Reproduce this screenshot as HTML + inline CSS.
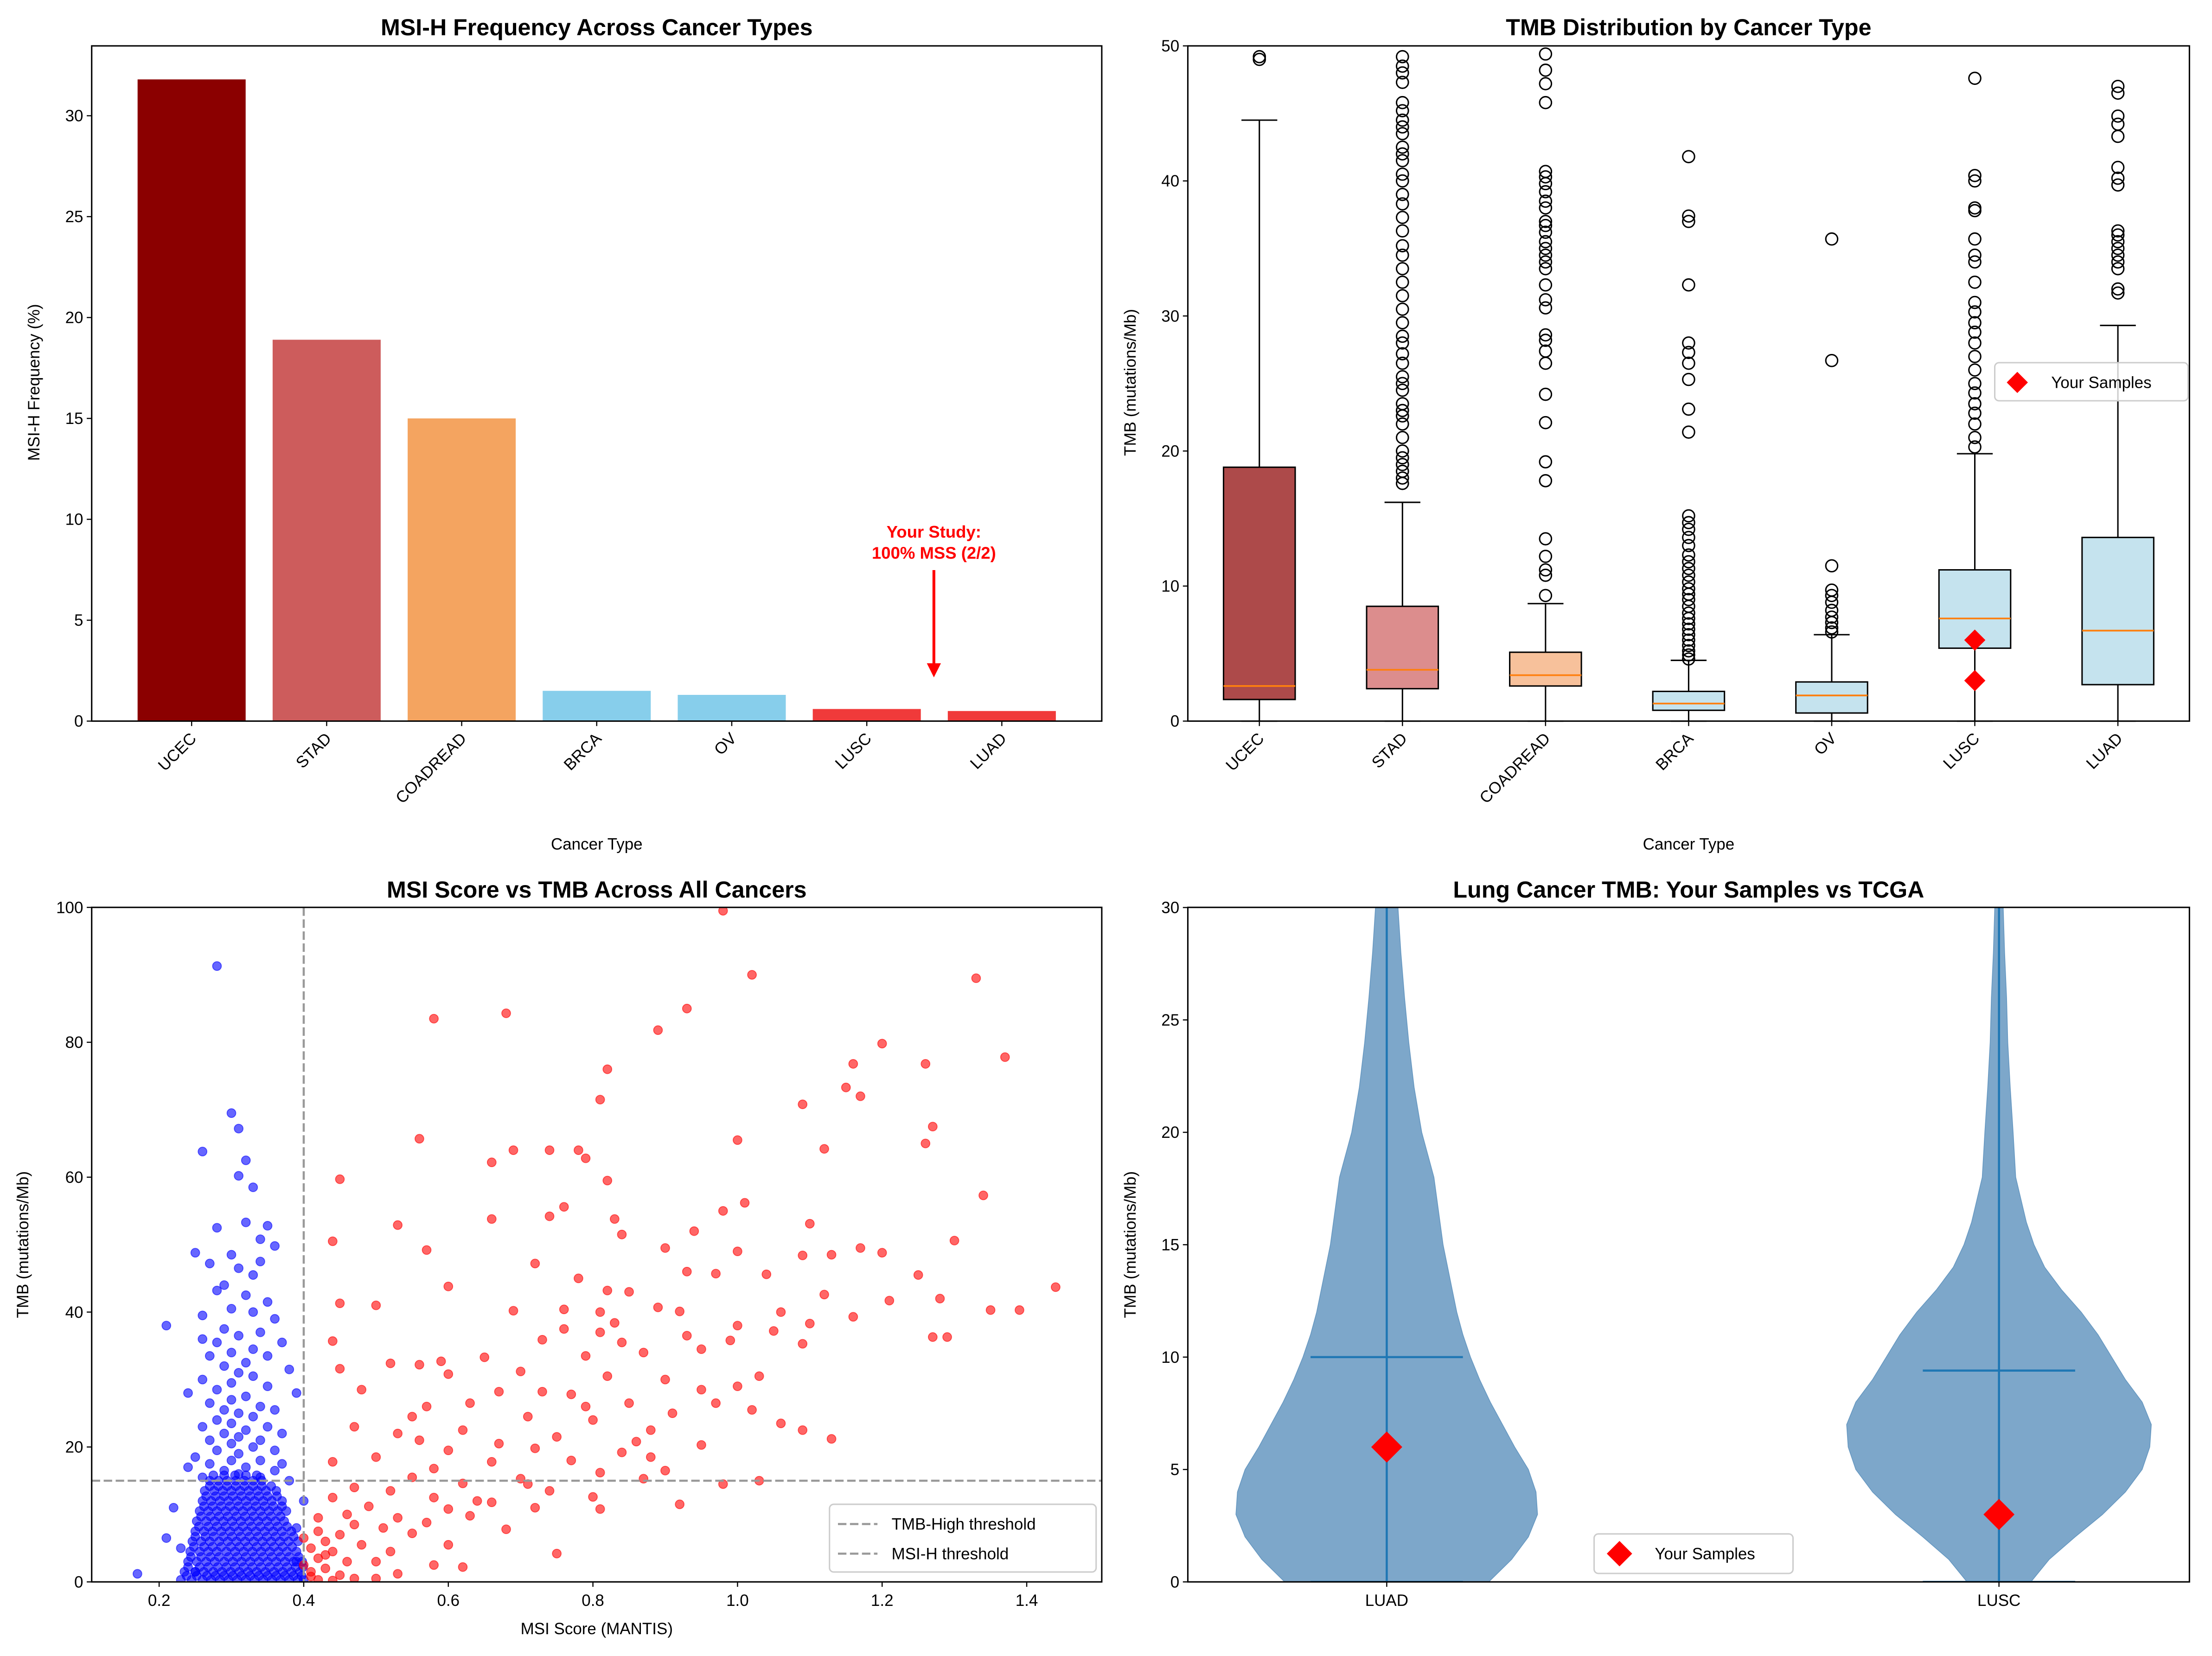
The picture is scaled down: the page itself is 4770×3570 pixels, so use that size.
<!DOCTYPE html>
<html><head><meta charset="utf-8"><style>
html,body{margin:0;padding:0;background:#fff}
svg{display:block;font-family:"Liberation Sans","DejaVu Sans",sans-serif}
</style></head><body>
<svg id="fig" xmlns="http://www.w3.org/2000/svg" width="4770" height="3570" viewBox="0 0 1568 1173.5"></svg>
<script>
// ---- Panel 1 data
const msiCats = ["UCEC","STAD","COADREAD","BRCA","OV","LUSC","LUAD"];
const msiFreq = [31.8,18.9,15.0,1.5,1.3,0.6,0.5];
const msiColors = ["#8b0000","#cd5c5c","#f4a460","#87ceeb","#87ceeb","#f03a3a","#f03a3a"];
const msiTicks = [0,5,10,15,20,25,30];
// ---- Panel 2 data
const boxQ1 = [1.6,2.4,2.6,0.8,0.6,5.4,2.7];
const boxMed = [2.6,3.8,3.4,1.3,1.9,7.6,6.7];
const boxQ3 = [18.8,8.5,5.1,2.2,2.9,11.2,13.6];
const boxLo = [0,0,0,0,0,0,0];
const boxHi = [44.5,16.2,8.7,4.5,6.4,19.8,29.3];
const boxColors = ["#ad4a4a","#dc8d8d","#f7c19b","#c5e3ee","#c5e3ee","#c5e3ee","#c5e3ee"];
const fliers = [
 [49,49.2],
 [17.6,18,18.5,19,19.5,20,21,22,22.6,23,23.5,24.5,25,25.5,26.5,27.2,28,28.5,29.5,30.5,31.5,32.5,33.5,34.5,35.2,36.3,37.3,38.3,39,40,40.5,41.5,42,42.5,43.5,44,44.5,45.2,45.8,47.3,48,48.5,49.2],
 [9.3,10.8,11.2,12.2,13.5,17.8,19.2,22.1,24.2,26.5,27.4,28.2,28.6,30.6,31.2,32.3,33.5,34,34.5,35,35.5,36.2,36.7,37,38,38.5,39.2,39.8,40.3,40.7,45.8,47.2,48.2,49.4],
 [4.6,4.9,5.2,5.6,6,6.4,6.8,7.2,7.6,8,8.5,9,9.4,9.8,10.3,10.8,11.3,11.8,12.3,13,13.6,14.2,14.7,15.2,21.4,23.1,25.3,26.5,27.3,28,32.3,37,37.4,41.8],
 [6.6,6.9,7.3,7.7,8.2,8.8,9.3,9.7,11.5,26.7,35.7],
 [20.3,21,22,22.8,23.5,24.3,25,26,27,28,28.8,29.5,30.3,31,32.5,34,34.5,35.7,37.8,38,40,40.4,47.6],
 [31.7,32,33.5,34,34.5,35,35.5,36,36.3,39.7,40.2,41,43.3,44.2,44.8,46.5,47]
];
const boxTicks = [0,10,20,30,40,50];
const yourLusc = [6.0,3.0];
// ---- Panel 3 data
const redX = [0.98,1.02,1.33,0.93,0.58,0.68,0.89,1.2,1.37,1.16,1.26,0.82,1.15,1.17,0.81,1.09,1.27,1.0,0.56,1.26,0.74,0.78,0.69,1.12,0.79,0.66,0.45,0.82,1.01,0.76,0.98,1.34,0.74,0.83,0.66,1.1,0.53,0.94,0.84,1.3,0.44,0.9,1.2,1.13,1.09,1.0,0.57,1.17,0.72,1.04,0.97,0.93,0.78,1.25,1.44,0.6,0.82,0.85,1.12,1.21,1.28,1.35,1.39,0.81,0.69,0.76,0.89,0.92,1.06,0.45,0.5,0.83,1.0,1.1,1.16,0.76,0.81,0.93,1.05,1.27,1.29,0.73,0.44,0.99,0.84,1.09,0.95,0.87,0.79,0.65,0.59,0.52,0.56,0.45,0.7,0.6,0.82,0.9,1.0,0.48,0.67,0.73,0.77,0.63,0.85,0.97,0.57,0.91,0.55,0.71,1.02,0.8,0.47,0.62,0.88,0.53,0.75,1.09,1.13,0.67,0.95,0.6,0.72,0.84,0.5,0.77,0.66,0.44,0.58,0.9,0.81,0.55,0.7,0.87,0.98,1.03,0.62,0.47,0.52,0.74,0.92,0.8,0.58,0.44,0.66,0.49,0.6,0.72,0.81,0.46,0.53,0.63,0.47,0.57,0.42,0.51,0.68,0.45,0.55,0.43,0.48,0.6,0.41,0.44,0.52,0.75,0.42,0.46,0.5,0.4,0.43,0.58,0.62,0.41,0.45,0.47,0.42,0.53,0.5,0.44,0.41,0.43,0.4,0.42,0.86,0.95,1.06,0.71,0.88,0.64,0.79,1.03,0.56];
const redY = [99.5,90,89.5,85,83.5,84.3,81.8,79.8,77.8,76.8,76.8,76,73.3,72,71.5,70.8,67.5,65.5,65.7,65,64,64,64,64.2,62.8,62.2,59.7,59.5,56.2,55.6,55,57.3,54.2,53.8,53.8,53.1,52.9,52,51.5,50.6,50.5,49.5,48.8,48.5,48.4,49,49.2,49.5,47.2,45.6,45.7,46,45,45.5,43.7,43.8,43.2,43,42.6,41.7,42,40.3,40.3,40,40.2,40.4,40.7,40.1,40,41.3,41,38.4,38,38.3,39.3,37.5,37,36.5,37.2,36.3,36.3,35.9,35.7,35.8,35.5,35.3,34.5,34,33.5,33.3,32.7,32.4,32.2,31.6,31.2,30.8,30.5,30,29,28.5,28.2,28.2,27.8,26.5,26.5,26.5,26,25,24.5,24.5,25.5,24,23,22.5,22.5,22,21.5,22.5,21.2,20.5,20.3,19.5,19.8,19.2,18.5,18,17.8,17.8,16.8,16.5,16.2,15.5,15.3,15.3,14.5,15,14.6,14,13.5,13.5,11.5,12.6,12.5,12.5,11.8,11.2,10.8,11,10.8,10,9.5,9.8,8.5,8.8,9.5,8,7.8,7,7.2,6,5.5,5.5,5,4.5,4.5,4.2,3.5,3,3,2.5,2,2.5,2.2,1.5,1,0.5,0.3,1.2,0.5,0.2,0.8,4,6.5,7.5,20.8,28.5,23.5,14.5,18.5,12,26,30.5,21];
const blueX = [0.28,0.3,0.31,0.26,0.32,0.31,0.33,0.35,0.32,0.28,0.34,0.36,0.25,0.3,0.27,0.34,0.31,0.33,0.29,0.28,0.32,0.35,0.3,0.33,0.26,0.36,0.21,0.29,0.34,0.31,0.26,0.28,0.37,0.33,0.3,0.27,0.35,0.32,0.29,0.38,0.31,0.33,0.26,0.3,0.35,0.28,0.24,0.39,0.32,0.3,0.27,0.34,0.29,0.36,0.31,0.33,0.28,0.3,0.26,0.35,0.32,0.29,0.37,0.31,0.27,0.34,0.3,0.33,0.28,0.36,0.31,0.25,0.3,0.34,0.27,0.32,0.29,0.36,0.31,0.26,0.34,0.38,0.22,0.21,0.17,0.4,0.39,0.24,0.37,0.39,0.23,0.25];
const blueY = [91.3,69.5,67.2,63.8,62.5,60.2,58.5,52.8,53.3,52.5,50.8,49.8,48.8,48.5,47.2,47.5,46.5,45.5,44,43.2,42.5,41.5,40.5,40,39.5,39,38,37.5,37,36.5,36,35.5,35.5,34.5,34,33.5,33.5,32.5,32,31.5,31,30.5,30,29.5,29,28.5,28,28,27.5,27,26.5,26,25.5,25.5,25,24.5,24,23.5,23,23,22.5,22,22,21.5,21,21,20.5,20,19.5,19.5,19,18.5,18,18,17.5,17,16.5,16.5,16,15.5,15.5,15,11,6.5,1.2,12,8,17,17.5,3,5,1.5];
const blobRowY = [0.3,1.5,3,4.5,6,7.5,9,10.5,12,13.5,15];
const blobRowY2 = [0.9,2.2,3.7,5.2,6.7,8.2,9.7,11.2,12.7,14.2,15.8];
const blobRowX = [
 [.23,.245,.26,.272,.284,.296,.308,.32,.332,.344,.356,.368,.38,.392,.40],
 [.235,.25,.262,.275,.287,.299,.311,.323,.335,.347,.359,.371,.383,.395],
 [.24,.252,.265,.277,.29,.302,.314,.326,.338,.35,.362,.374,.386,.398],
 [.243,.256,.268,.28,.293,.305,.317,.329,.341,.353,.365,.377,.39],
 [.246,.258,.27,.283,.295,.307,.319,.331,.343,.355,.367,.379,.392],
 [.25,.262,.274,.286,.298,.31,.322,.334,.346,.358,.37,.383],
 [.252,.265,.277,.289,.301,.313,.325,.337,.349,.361,.373],
 [.256,.268,.28,.292,.304,.316,.328,.34,.352,.364,.376],
 [.26,.272,.284,.296,.308,.32,.332,.344,.356,.37],
 [.263,.276,.288,.3,.312,.324,.336,.348,.362],
 [.27,.282,.294,.306,.318,.33,.342]
];
const blobRowX2 = [
 [.238,.252,.266,.278,.29,.302,.314,.326,.338,.35,.362,.374,.386,.397],
 [.24,.256,.268,.281,.293,.305,.317,.329,.341,.353,.365,.377,.389,.399],
 [.244,.258,.271,.283,.296,.308,.32,.332,.344,.356,.368,.38,.393],
 [.248,.262,.274,.286,.299,.311,.323,.335,.347,.359,.371,.384],
 [.25,.264,.276,.289,.301,.313,.325,.337,.349,.361,.373,.386],
 [.255,.268,.28,.292,.304,.316,.328,.34,.352,.364,.377],
 [.258,.271,.283,.295,.307,.319,.331,.343,.355,.368],
 [.262,.274,.286,.298,.31,.322,.334,.346,.358,.37],
 [.265,.278,.29,.302,.314,.326,.338,.35,.363],
 [.27,.282,.294,.306,.318,.33,.342,.355],
 [.275,.29,.305,.32,.335]
];
const scXTicks = [0.2,0.4,0.6,0.8,1.0,1.2,1.4];
const scYTicks = [0,20,40,60,80,100];
// ---- Panel 4 data (half-width relative to max)
const violinCats = ["LUAD","LUSC"];
const violinY = [0,1,2,3,4,5,6,7,8,9,10,11,12,13,14,15,16,18,20,22,24,26,28,30];
const luadDens = [0.67,0.82,0.93,0.99,0.98,0.93,0.84,0.76,0.68,0.61,0.55,0.5,0.46,0.43,0.4,0.37,0.35,0.31,0.23,0.18,0.145,0.117,0.093,0.074];
const luscDens = [0.21,0.33,0.5,0.68,0.83,0.94,0.99,1.0,0.94,0.83,0.74,0.65,0.54,0.41,0.3,0.23,0.18,0.11,0.093,0.074,0.058,0.05,0.037,0.028];
const violinMeans = [10.0,9.4];
const violinSamples = [6.0,3.0];
const vTicks = [0,5,10,15,20,25,30];

const NS="http://www.w3.org/2000/svg";
const svg=document.getElementById('fig');
function mk(tag,attrs,parent){const e=document.createElementNS(NS,tag);for(const k in attrs)e.setAttribute(k,attrs[k]);(parent||svg).appendChild(e);return e;}
function txt(s,attrs,parent){const e=mk('text',attrs,parent);e.textContent=s;return e;}
function axesFrame(name){
  const g=mk('g',{});
  
  
  return g;
}
function frame(g,L,T,R,B){
  const r=mk('rect',{x:L,y:T,width:R-L,height:B-T,fill:'none',stroke:'#000','stroke-width':1},g);
  
  
}
function yTicks(g,L,ticks,sy){
  ticks.forEach(t=>{const y=sy(t);
    mk('line',{x1:L-3.5,x2:L,y1:y,y2:y,stroke:'#000','stroke-width':0.8},g);
    const e=txt(String(t),{x:L-6,y:y+4,'font-size':11.5,'text-anchor':'end'},g);
    
    
  });
}
function title(g,s,x,y){const e=txt(s,{x:x,y:y,'font-size':16.5,'font-weight':'bold','text-anchor':'middle'},g);
  
  }
function ylab(g,s,x,y){const e=txt(s,{x:0,y:0,'font-size':11.5,'text-anchor':'middle',transform:`translate(${x},${y}) rotate(-90)`},g);
  
  }
function xlab(g,s,x,y){const e=txt(s,{x:x,y:y,'font-size':11.5,'text-anchor':'middle'},g);
  
  }
function rotLabels(g,cats,sx,B){
  cats.forEach((c,i)=>{const x=sx(i);
    mk('line',{x1:x,x2:x,y1:B,y2:B+3.5,stroke:'#000','stroke-width':0.8},g);
    const e=txt(c,{x:0,y:0,'font-size':11.5,'text-anchor':'end',transform:`translate(${x+4},${B+13}) rotate(-45)`},g);
    
    
  });
}
function diamond(g,x,y,r){return mk('path',{d:`M${x},${y-r}L${x+r},${y}L${x},${y+r}L${x-r},${y}Z`,fill:'red'},g);}

// ---------- Panel 1
(function(){
  const L=65,T=32.5,R=781,B=511;
  const g=axesFrame('msi-frequency-chart');
  const sx=i=>L+(i+0.74)*95.72, sy=v=>B-v*14.3;
  msiCats.forEach((c,i)=>{const w=76.6;
    const r=mk('rect',{x:sx(i)-w/2,y:sy(msiFreq[i]),width:w,height:B-sy(msiFreq[i]),fill:msiColors[i]},g);
    
    
  });
  frame(g,L,T,R,B);
  yTicks(g,L,msiTicks,sy);
  rotLabels(g,msiCats,sx,B);
  title(g,'MSI-H Frequency Across Cancer Types',423,25);
  ylab(g,'MSI-H Frequency (%)',28,271);
  xlab(g,'Cancer Type',423,602);
  const a=txt('Your Study:',{x:662,y:381,'font-size':12,'font-weight':'bold',fill:'red','text-anchor':'middle'},g);
  
  
  txt('100% MSS (2/2)',{x:662,y:396,'font-size':12,'font-weight':'bold',fill:'red','text-anchor':'middle'},g);
  const ar=mk('line',{x1:662,x2:662,y1:404,y2:471,stroke:'red','stroke-width':2},g);
  
  
  mk('path',{d:'M657,470L667,470L662,480Z',fill:'red'},g);
})();

// ---------- Panel 2
(function(){
  const L=842,T=32.5,R=1552,B=511;
  const g=axesFrame('tmb-boxplot-chart');
  const sx=i=>L+(i+0.5)*101.43, sy=v=>B-v*9.57;
  msiCats.forEach((c,i)=>{const x=sx(i),hw=25.4,cw=12.7;
    const bg=mk('g',{},g);
    
    
    mk('line',{x1:x,x2:x,y1:sy(boxLo[i]),y2:sy(boxQ1[i]),stroke:'#000','stroke-width':1},bg);
    mk('line',{x1:x,x2:x,y1:sy(boxQ3[i]),y2:sy(boxHi[i]),stroke:'#000','stroke-width':1},bg);
    mk('line',{x1:x-cw,x2:x+cw,y1:sy(boxLo[i]),y2:sy(boxLo[i]),stroke:'#000','stroke-width':1},bg);
    mk('line',{x1:x-cw,x2:x+cw,y1:sy(boxHi[i]),y2:sy(boxHi[i]),stroke:'#000','stroke-width':1},bg);
    mk('rect',{x:x-hw,y:sy(boxQ3[i]),width:2*hw,height:sy(boxQ1[i])-sy(boxQ3[i]),fill:boxColors[i],stroke:'#000','stroke-width':1},bg);
    mk('line',{x1:x-hw,x2:x+hw,y1:sy(boxMed[i]),y2:sy(boxMed[i]),stroke:'#ff7f0e','stroke-width':1.2},bg);
    fliers[i].forEach(v=>{
      const c2=mk('circle',{cx:x,cy:sy(v),r:4.2,fill:'none',stroke:'#000','stroke-width':1},bg);
      
      
    });
  });
  yourLusc.forEach(v=>{const d=diamond(g,sx(5),sy(v),7.5);
    
    });
  frame(g,L,T,R,B);
  yTicks(g,L,boxTicks,sy);
  rotLabels(g,msiCats,sx,B);
  title(g,'TMB Distribution by Cancer Type',1197,25);
  ylab(g,'TMB (mutations/Mb)',805,271);
  xlab(g,'Cancer Type',1197,602);
  const lg=mk('g',{},g);
  
  
  mk('rect',{x:1414,y:257,width:137,height:27,rx:3,fill:'#fff','fill-opacity':0.8,stroke:'#ccc'},lg);
  diamond(lg,1430,271,7.5);
  txt('Your Samples',{x:1454,y:275,'font-size':11.5},lg);
})();

// ---------- Panel 3
(function(){
  const L=65,T=643,R=781,B=1121;
  const g=axesFrame('msi-vs-tmb-scatter');
  const sx=v=>112.8+(v-0.2)*512.5, sy=v=>B-v*4.78;
  const clip=mk('clipPath',{id:'c3'},g);mk('rect',{x:L,y:T,width:R-L,height:B-T},clip);
  const pts=mk('g',{'clip-path':'url(#c3)'},g);
  const dot=(x,y,col,name)=>{const c=mk('circle',{cx:sx(x),cy:sy(y),r:3.1,fill:col,'fill-opacity':0.6,stroke:col,'stroke-opacity':0.6,'stroke-width':0.6},pts);
    
    };
  blobRowY.forEach((y,i)=>blobRowX[i].forEach(x=>dot(x,y,'#0000ff','mss-point')));
  blobRowY2.forEach((y,i)=>blobRowX2[i].forEach(x=>dot(x,y,'#0000ff','mss-point')));
  blueX.forEach((x,i)=>dot(x,blueY[i],'#0000ff','mss-point'));
  redX.forEach((x,i)=>dot(x,redY[i],'#ff0000','msi-h-point'));
  const h=mk('line',{x1:L,x2:R,y1:sy(15),y2:sy(15),stroke:'#999','stroke-width':1.5,'stroke-dasharray':'6,2.5'},g);
  
  
  const vv=mk('line',{x1:sx(0.4),x2:sx(0.4),y1:T,y2:B,stroke:'#999','stroke-width':1.5,'stroke-dasharray':'6,2.5'},g);
  
  
  frame(g,L,T,R,B);
  yTicks(g,L,scYTicks,sy);
  scXTicks.forEach(t=>{const x=sx(t);
    mk('line',{x1:x,x2:x,y1:B,y2:B+3.5,stroke:'#000','stroke-width':0.8},g);
    const e=txt(t.toFixed(1),{x:x,y:B+17,'font-size':11.5,'text-anchor':'middle'},g);
    
    });
  title(g,'MSI Score vs TMB Across All Cancers',423,636);
  ylab(g,'TMB (mutations/Mb)',20,882);
  xlab(g,'MSI Score (MANTIS)',423,1158);
  const lg=mk('g',{},g);
  
  
  mk('rect',{x:588,y:1066,width:189,height:48,rx:3,fill:'#fff','fill-opacity':0.8,stroke:'#ccc'},lg);
  mk('line',{x1:594,x2:622,y1:1080,y2:1080,stroke:'#999','stroke-width':1.5,'stroke-dasharray':'6,2.5'},lg);
  txt('TMB-High threshold',{x:632,y:1084,'font-size':11.5},lg);
  mk('line',{x1:594,x2:622,y1:1101,y2:1101,stroke:'#999','stroke-width':1.5,'stroke-dasharray':'6,2.5'},lg);
  txt('MSI-H threshold',{x:632,y:1105,'font-size':11.5},lg);
})();

// ---------- Panel 4
(function(){
  const L=842,T=643,R=1552,B=1121;
  const g=axesFrame('lung-tmb-violin');
  const sx=v=>983+(v-1)*434, sy=v=>B-v*15.93;
  const clip=mk('clipPath',{id:'c4'},g);mk('rect',{x:L,y:T,width:R-L,height:B-T},clip);
  const vg=mk('g',{'clip-path':'url(#c4)'},g);
  [luadDens,luscDens].forEach((dens,i)=>{const cx=sx(i+1),W=108;
    let d='';
    violinY.forEach((y,k)=>{d+=(k?'L':'M')+(cx+dens[k]*W)+','+sy(y);});
    for(let k=violinY.length-1;k>=0;k--)d+='L'+(cx-dens[k]*W)+','+sy(violinY[k]);
    d+='Z';
    const p=mk('path',{d:d,fill:'#4682b4','fill-opacity':0.7,stroke:'#4682b4','stroke-opacity':0.7,'stroke-linejoin':'round','stroke-width':0.5},vg);
    
    
    mk('line',{x1:cx,x2:cx,y1:sy(0),y2:T-10,stroke:'#1f77b4','stroke-width':1.5},vg);
    const ml=mk('line',{x1:cx-54,x2:cx+54,y1:sy(violinMeans[i]),y2:sy(violinMeans[i]),stroke:'#1f77b4','stroke-width':1.5},vg);
    
    
    mk('line',{x1:cx-54,x2:cx+54,y1:sy(0),y2:sy(0),stroke:'#1f77b4','stroke-width':1.5},vg);
    const dm=diamond(vg,cx,sy(violinSamples[i]),11);
    
    
  });
  frame(g,L,T,R,B);
  yTicks(g,L,vTicks,sy);
  violinCats.forEach((c,i)=>{const x=sx(i+1);
    mk('line',{x1:x,x2:x,y1:B,y2:B+3.5,stroke:'#000','stroke-width':0.8},g);
    const e=txt(c,{x:x,y:B+17,'font-size':11.5,'text-anchor':'middle'},g);
    
    });
  title(g,'Lung Cancer TMB: Your Samples vs TCGA',1197,636);
  ylab(g,'TMB (mutations/Mb)',805,882);
  const lg=mk('g',{},g);
  
  
  mk('rect',{x:1130,y:1087,width:141,height:28,rx:3,fill:'#fff','fill-opacity':0.8,stroke:'#ccc'},lg);
  diamond(lg,1148,1101,9);
  txt('Your Samples',{x:1173,y:1105,'font-size':11.5},lg);
})();
</script>
</body></html>
